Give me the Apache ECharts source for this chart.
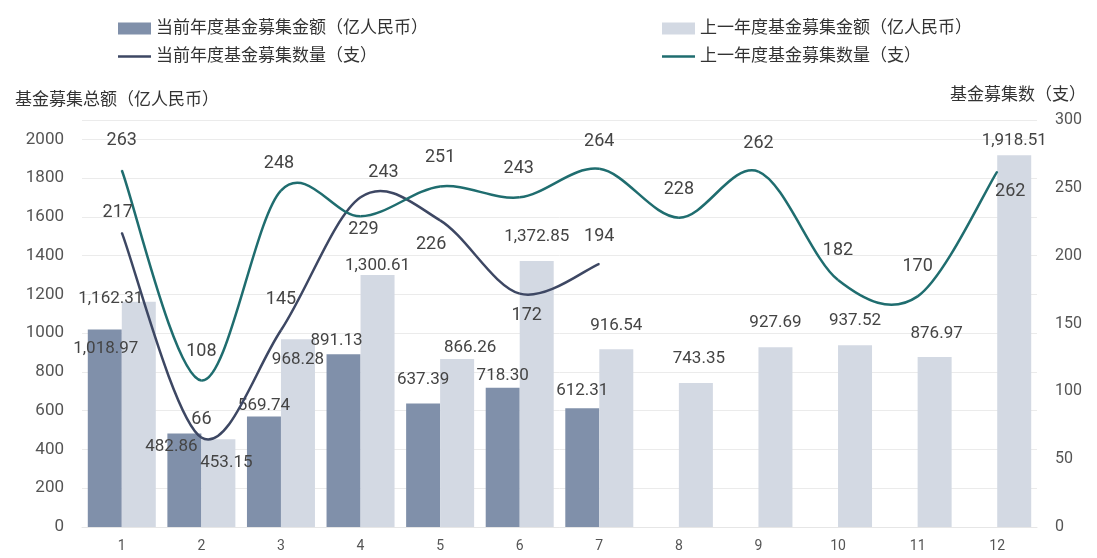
<!DOCTYPE html>
<html>
<head>
<meta charset="utf-8">
<script src="https://cdn.jsdelivr.net/npm/echarts@6/dist/echarts.min.js"></script>
<style>html,body{margin:0;padding:0;background:#fff}#c{width:1097px;height:558px}</style>
</head>
<body>
<div id="c"></div>
<script>
const months = ['1','2','3','4','5','6','7','8','9','10','11','12'];
const curAmount = [1018.97, 482.86, 569.74, 891.13, 637.39, 718.30, 612.31];
const prevAmount = [1162.31, 453.15, 968.28, 1300.61, 866.26, 1372.85, 916.54, 743.35, 927.69, 937.52, 876.97, 1918.51];
const curCount = [217, 66, 145, 243, 226, 172, 194];
const prevCount = [263, 108, 248, 229, 251, 243, 264, 228, 262, 182, 170, 262];
const leftTicks = {min: 0, max: 2100, interval: 200};
const rightTicks = {min: 0, max: 300, interval: 50};

const names = {
  curAmount: '当前年度基金募集金额（亿人民币）',
  prevAmount: '上一年度基金募集金额（亿人民币）',
  curCount: '当前年度基金募集数量（支）',
  prevCount: '上一年度基金募集数量（支）'
};

const FONT = "Roboto, 'Noto Sans CJK SC', sans-serif";
const COL = {curBar: '#8090aa', prevBar: '#d3d9e3', curLine: '#3d4763', prevLine: '#1f6d6f'};
const fmt = v => v.toLocaleString('en-US', {minimumFractionDigits: 2, maximumFractionDigits: 2});

// label offsets (style only): [dx, dy of label center relative to bar top / point]
const curBarLabelOff = [[1, 20], [-13, 14], [0, -10], [-7, -13], [0, -23], [0, -12], [0, -17]];
const prevBarLabelOff = [[-28, -2], [8, 24], [0, 21], [0, -9], [13, -11], [0, -24], [0, -23], [3, -24], [0, -24], [0, -24], [2, -23], [0, -14]];
const curLineLabelOff = [[-4, -20], [0, -17], [0, -30], [23, -24], [-9, 25], [7, 22], [0, -27]];
const prevLineLabelOff = [[0, -29], [0, -28], [-2, -27], [3, 14], [0, -28], [-1, -28], [0, -27], [0, -28], [0, -28], [0, -29], [0, -29], [13, 20]];

const barLabel = (offs) => (v, i) => ({
  value: v,
  label: {show: true, position: 'top', distance: 0, offset: [offs[i][0], offs[i][1] + 8],
    formatter: p => fmt(p.value), fontSize: 17, color: '#444', fontFamily: FONT}
});
const lineLabel = (offs) => (v, i) => ({
  value: v,
  label: {show: true, position: 'top', distance: 0, offset: [offs[i][0], offs[i][1] + 9],
    fontSize: 18, color: '#444', fontFamily: FONT, opacity: 1}
});

// smooth curve (Catmull-Rom) through the points, placed by the chart's own axes
function curveSeries(values, color) {
  return {
    type: 'custom', yAxisIndex: 1, coordinateSystem: 'cartesian2d', z: 4, silent: true,
    data: [[0, values[0]]],
    renderItem: function (params, api) {
      const pts = values.map((v, i) => api.coord([i, v]));
      const n = pts.length;
      const children = [];
      for (let i = 0; i < n - 1; i++) {
        const p0 = pts[Math.max(i - 1, 0)], p1 = pts[i], p2 = pts[i + 1], p3 = pts[Math.min(i + 2, n - 1)];
        children.push({
          type: 'bezierCurve',
          shape: {
            x1: p1[0], y1: p1[1], x2: p2[0], y2: p2[1],
            cpx1: p1[0] + (p2[0] - p0[0]) / 6, cpy1: p1[1] + (p2[1] - p0[1]) / 6,
            cpx2: p2[0] - (p3[0] - p1[0]) / 6, cpy2: p2[1] - (p3[1] - p1[1]) / 6
          },
          style: {stroke: color, lineWidth: 2.5, fill: null}
        });
      }
      return {type: 'group', children: children};
    }
  };
}

const lineIcon = 'path://M0,0H40V3H0Z';
const chart = echarts.init(document.getElementById('c'), null, {renderer: 'canvas'});
chart.setOption({
  animation: false,
  backgroundColor: '#fff',
  textStyle: {fontFamily: FONT},
  legend: [
    {left: 113, top: 15, orient: 'vertical', itemGap: 11, itemWidth: 33, itemHeight: 12,
     textStyle: {fontSize: 17, color: '#333', fontFamily: FONT},
     data: [{name: names.curAmount, icon: 'rect'},
            {name: names.curCount, icon: lineIcon, itemStyle: {color: COL.curLine, opacity: 1}}]},
    {left: 657, top: 15, orient: 'vertical', itemGap: 11, itemWidth: 33, itemHeight: 12,
     textStyle: {fontSize: 17, color: '#333', fontFamily: FONT},
     data: [{name: names.prevAmount, icon: 'rect'},
            {name: names.prevCount, icon: lineIcon, itemStyle: {color: COL.prevLine, opacity: 1}}]}
  ],
  grid: {left: 82, right: 60, top: 120, bottom: 31, containLabel: false},
  xAxis: {
    type: 'category', data: months,
    axisLine: {lineStyle: {color: '#e6e6e6'}}, axisTick: {show: false},
    axisLabel: {fontSize: 14, color: '#555', margin: 12}
  },
  yAxis: [
    {type: 'value', min: leftTicks.min, max: leftTicks.max, interval: leftTicks.interval,
     name: '基金募集总额（亿人民币）', nameLocation: 'end', nameGap: 11,
     nameTextStyle: {fontSize: 17, color: '#333', align: 'left', padding: [0, 0, 0, -67], fontFamily: FONT},
     axisLine: {show: false}, axisTick: {show: false},
     axisLabel: {fontSize: 17, color: '#555', margin: 18, showMaxLabel: false, formatter: v => String(v)},
     splitLine: {lineStyle: {color: '#ebebeb'}}},
    {type: 'value', min: rightTicks.min, max: rightTicks.max, interval: rightTicks.interval,
     name: '基金募集数（支）', nameLocation: 'end', nameGap: 16,
     nameTextStyle: {fontSize: 17, color: '#333', align: 'right', padding: [0, -49, 0, 0], fontFamily: FONT},
     axisLine: {show: false}, axisTick: {show: false},
     axisLabel: {fontSize: 16, color: '#555', margin: 18},
     splitLine: {show: false}}
  ],
  series: [
    {name: names.curAmount, type: 'bar', yAxisIndex: 0, barWidth: 34, barGap: '0%',
     itemStyle: {color: COL.curBar}, data: curAmount.map(barLabel(curBarLabelOff)), z: 2},
    {name: names.prevAmount, type: 'bar', yAxisIndex: 0, barWidth: 34, barGap: '0%',
     itemStyle: {color: COL.prevBar}, data: prevAmount.map(barLabel(prevBarLabelOff)), z: 2},
    {name: names.curCount, type: 'line', yAxisIndex: 1, symbol: 'circle', symbolSize: 1,
     lineStyle: {color: COL.curLine, width: 2.5, opacity: 0}, itemStyle: {color: COL.curLine},
     data: curCount.map(lineLabel(curLineLabelOff)), z: 5},
    {name: names.prevCount, type: 'line', yAxisIndex: 1, symbol: 'circle', symbolSize: 1,
     lineStyle: {color: COL.prevLine, width: 2.5, opacity: 0}, itemStyle: {color: COL.prevLine},
     data: prevCount.map(lineLabel(prevLineLabelOff)), z: 5},
    curveSeries(curCount, COL.curLine),
    curveSeries(prevCount, COL.prevLine)
  ]
});
</script>
</body>
</html>
